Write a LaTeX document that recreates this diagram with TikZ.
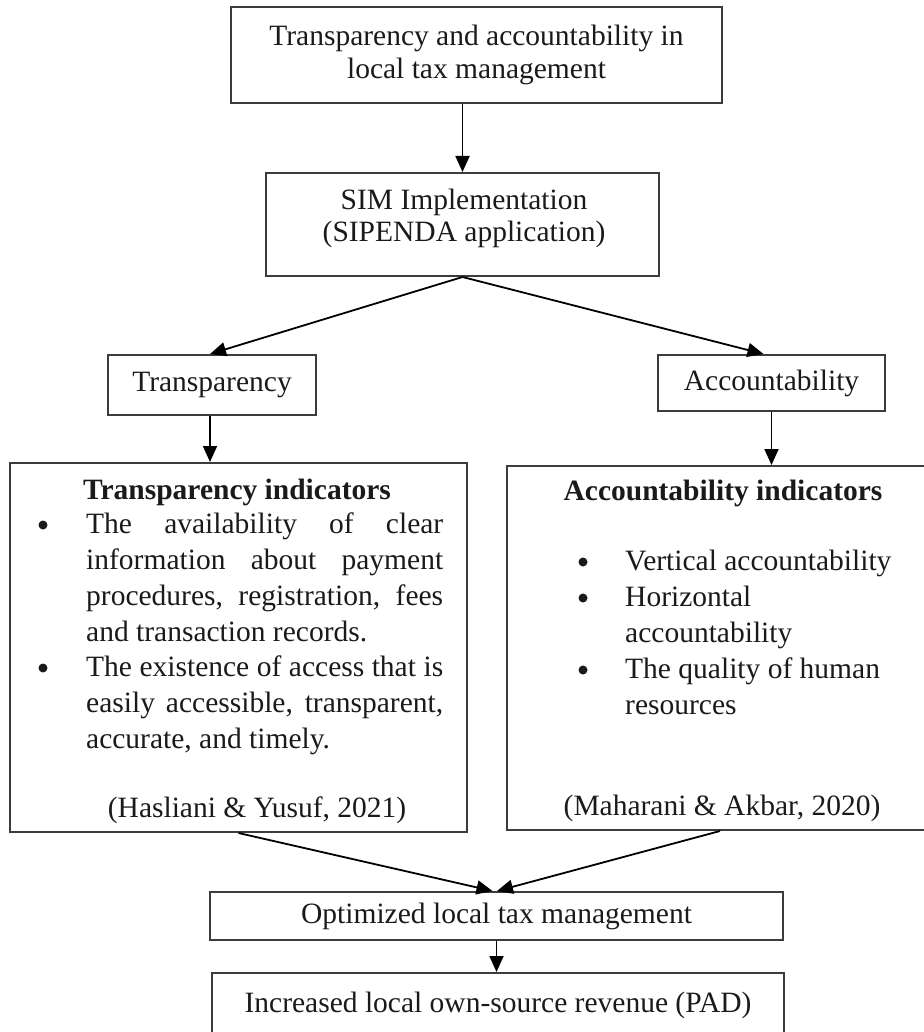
\documentclass[tikz,border=0pt]{standalone}
\usepackage{fontspec}
\setmainfont{Liberation Serif}
\usetikzlibrary{arrows.meta}
\definecolor{boxgray}{HTML}{3C3C3C}
\definecolor{txtc}{HTML}{1A1A1A}
\newcommand\myfs{\fontsize{29.5}{32.5}\selectfont}
\newcommand\mylist{\fontsize{29.5}{36}\selectfont}
\begin{document}
\begin{tikzpicture}[x=1pt,y=-1pt,
  box/.style={draw=boxgray, line width=2pt, inner sep=0pt, text=txtc, font=\myfs, align=center},
  txt/.style={inner sep=0pt, text=txtc, font=\mylist},
  bul/.style={circle, fill=txtc, inner sep=0pt, minimum size=9pt},
  arr/.style={-{Triangle[length=16pt,width=14pt]}, line width=1.8pt, draw=black}]
\useasboundingbox (0,0) rectangle (923,1032);
% boxes
\node[box, minimum width=491pt, minimum height=96pt] (top) at (476.5,55) {Transparency and accountability in\\local tax management};
\node[box, minimum width=393pt, minimum height=103pt] (sim) at (462.5,224.5) {};
\node[txt, font=\myfs, align=center] (simtext) at (464,218.5) {SIM Implementation\\(SIPENDA application)};
\node[box, minimum width=208pt, minimum height=60pt] (trans) at (212,385) {Transparency};
\node[box, minimum width=227pt, minimum height=56pt] (acc) at (771.5,383) {Accountability};
\node[box, minimum width=457pt, minimum height=369pt] (tind) at (238.5,647.5) {};
\node[box, minimum width=428pt, minimum height=364pt] (aind) at (721,648) {};
\node[box, minimum width=573pt, minimum height=48pt] (opt) at (496.5,916) {Optimized local tax management};
\node[box, minimum width=572pt, minimum height=64pt] (pad) at (498,1005) {Increased local own-source revenue (PAD)};
% left box content
\node[txt, font=\mylist\bfseries] (ttitle) at (237,492) {Transparency indicators};
\node[bul] (tb1) at (43,525) {};
\node[txt, anchor=base west] (tt1) at (86,533) {\parbox[t]{357pt}{\mylist The availability of clear\linebreak information about payment\linebreak procedures, registration, fees\linebreak and transaction records.}};
\node[bul] (tb2) at (43,668) {};
\node[txt, anchor=base west] (tt2) at (86,676) {\parbox[t]{357pt}{\mylist The existence of access that is\linebreak easily accessible, transparent,\linebreak accurate, and timely.}};
\node[txt] (tcite) at (257,810) {(Hasliani \& Yusuf, 2021)};
% right box content
\node[txt, font=\mylist\bfseries] (atitle) at (723,493) {Accountability indicators};
\node[bul] (ab1) at (583,562) {};
\node[txt, anchor=base west] (at1) at (625,570) {Vertical accountability};
\node[bul] (ab2) at (583,598) {};
\node[txt, anchor=base west] (at2) at (625,606) {\parbox[t]{290pt}{\mylist\raggedright Horizontal\\accountability}};
\node[bul] (ab3) at (583,670) {};
\node[txt, anchor=base west] (at3) at (625,678) {\parbox[t]{290pt}{\mylist\raggedright The quality of human\\resources}};
\node[txt] (acite) at (722,808) {(Maharani \& Akbar, 2020)};
% connectors
\draw[arr] (top.south -| sim.north) -- (sim.north);
\draw[arr] (sim.south) -- ([xshift=-2pt]trans.north);
\draw[arr] (sim.south) -- ([xshift=-8pt]acc.north);
\draw[arr] ([xshift=-2pt]trans.south) -- ([xshift=-2pt]trans.south |- tind.north);
\draw[arr] (acc.south) -- (acc.south |- aind.north);
\draw[arr] (tind.south) -- ([xshift=-4pt]opt.north);
\draw[arr] ([xshift=-1pt]aind.south) -- ([xshift=0.5pt]opt.north);
\draw[arr] (opt.south) -- (opt.south |- pad.north);
\end{tikzpicture}
\end{document}
